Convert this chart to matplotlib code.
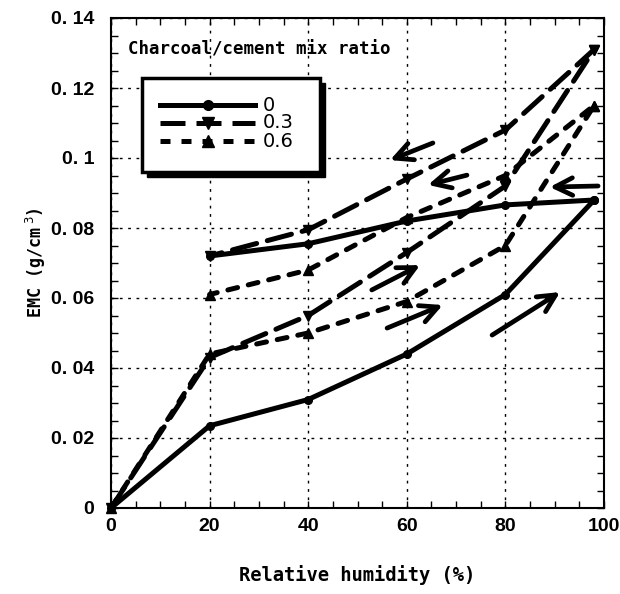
import matplotlib
matplotlib.use("Agg")
import matplotlib.pyplot as plt
from matplotlib.patches import Rectangle
from matplotlib.ticker import MultipleLocator

# ---- data ----
rh_ads = [0, 20, 40, 60, 80, 98]
rh_des = [98, 80, 60, 40, 20]
ads_00 = [0.0, 0.0235, 0.031, 0.044, 0.061, 0.088]
des_00 = [0.088, 0.0866, 0.082, 0.0755, 0.072]
ads_03 = [0.0, 0.043, 0.055, 0.073, 0.092, 0.131]
des_03 = [0.131, 0.108, 0.094, 0.0795, 0.072]
ads_06 = [0.0, 0.044, 0.050, 0.059, 0.075, 0.115]
des_06 = [0.115, 0.095, 0.083, 0.068, 0.061]
series_labels = ["0", "0.3", "0.6"]

x_ticks = [0, 20, 40, 60, 80, 100]
x_tick_labels = ["0", "20", "40", "60", "80", "100"]
y_ticks = [0, 0.02, 0.04, 0.06, 0.08, 0.10, 0.12, 0.14]
y_tick_labels = ["0", "0. 02", "0. 04", "0. 06", "0. 08", "0. 1", "0. 12", "0. 14"]

# arrow annotations (start -> end) in data units
arrows = [
    ((65.3, 0.1043), (56.6, 0.0994)),
    ((72.2, 0.0951), (64.3, 0.0923)),
    ((98.8, 0.0920), (89.0, 0.0917)),
    ((77.3, 0.0494), (91.1, 0.0617)),
    ((52.9, 0.0623), (62.7, 0.0694)),
    ((56.0, 0.0514), (67.3, 0.0580)),
]

# ---- figure ----
fig = plt.figure(figsize=(6.2, 5.94), dpi=100)
ax = fig.add_axes([111 / 620, 86 / 594, 493 / 620, 490 / 594])

mono = "DejaVu Sans Mono"
tickfont = dict(family="Liberation Sans", weight="bold", size=14)

styles = [
    dict(ls="-", marker="o", ms=5.5),
    dict(ls=(0, (5.0, 2.2)), marker="v", ms=6.5),
    dict(ls=(0, (2.0, 2.2)), marker="^", ms=6.5),
]
data = [(ads_00, des_00), (ads_03, des_03), (ads_06, des_06)]
for (a, d), st in zip(data, styles):
    xs = rh_ads + rh_des
    ys = a + d
    ax.plot(xs, ys, color="black", lw=3.6, ls=st["ls"], marker=st["marker"],
            ms=st["ms"], mfc="black", mec="black", dash_capstyle="round",
            solid_capstyle="round", zorder=3, clip_on=False)

for (s, e) in arrows:
    ax.annotate("", xy=e, xytext=s,
                arrowprops=dict(arrowstyle="->,head_length=0.9,head_width=0.45",
                                lw=3.4, color="black", mutation_scale=14,
                                shrinkA=0, shrinkB=0),
                zorder=4)

ax.set_xlim(0, 100)
ax.set_ylim(0, 0.14)
ax.set_xticks(x_ticks)
ax.set_xticklabels(x_tick_labels, **tickfont)
ax.set_yticks(y_ticks)
ax.set_yticklabels(y_tick_labels, **tickfont)
ax.xaxis.set_minor_locator(MultipleLocator(5))
ax.yaxis.set_minor_locator(MultipleLocator(0.005))
ax.tick_params(which="both", direction="in", top=True, right=True,
               length=5, width=1, color="black")
ax.tick_params(axis="x", which="major", pad=7)
ax.tick_params(axis="y", which="major", pad=12)
ax.grid(True, which="major", color="black", lw=1, ls=(0, (2, 4)))
for sp in ax.spines.values():
    sp.set_linewidth(1.5)

ax.set_xlabel("Relative humidity (%)", family=mono, weight="bold", size=13.5, labelpad=22)
ax.set_ylabel("EMC (g/cm$^{\\ 3}$)", family=mono, weight="bold", size=12, labelpad=2)

ax.text(0.035, 0.935, "Charcoal/cement mix ratio", transform=ax.transAxes,
        family=mono, weight="bold", size=12.5, va="center", ha="left", zorder=6)

# ---- legend (manual box with shadow) ----
bx0, bx1, by0, by1 = 0.063, 0.424, 0.686, 0.878
ax.add_patch(Rectangle((bx0 + 0.01, by0 - 0.011), bx1 - bx0, by1 - by0,
                       transform=ax.transAxes, facecolor="black",
                       edgecolor="black", zorder=6))
ax.add_patch(Rectangle((bx0, by0), bx1 - bx0, by1 - by0,
                       transform=ax.transAxes, facecolor="white",
                       edgecolor="black", lw=2.5, zorder=7))
row_y = [0.822, 0.786, 0.748]
hx0, hx1 = 0.100, 0.292
for ry, st, lab in zip(row_y, styles, series_labels):
    ax.plot([hx0, hx1], [ry, ry], transform=ax.transAxes, color="black",
            lw=3.6, ls=st["ls"], dash_capstyle="butt", zorder=8, clip_on=False)
    ax.plot([(hx0 + hx1) / 2], [ry], transform=ax.transAxes, color="black",
            marker=st["marker"], ms=st["ms"] + 1.5, zorder=9, clip_on=False)
    ax.text(0.307, ry, lab, transform=ax.transAxes, family="DejaVu Sans",
            size=14, va="center", ha="left", zorder=9)

fig.savefig("out.png", dpi=100)
